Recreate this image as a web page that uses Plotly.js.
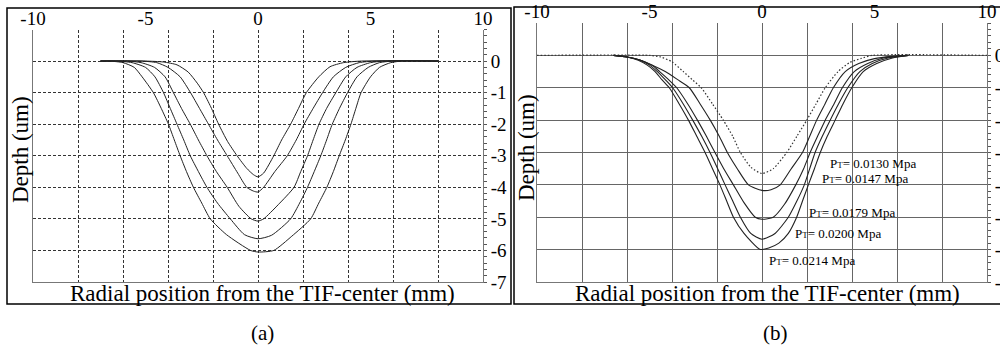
<!DOCTYPE html>
<html>
<head>
<meta charset="utf-8">
<script src="https://cdn.plot.ly/plotly-3.0.1.min.js"></script>
<style>html,body{margin:0;padding:0;background:#fff;}#chart{width:1000px;height:347px;}</style>
</head>
<body>
<div id="chart"></div>
<script>
// ---------- Panel (a): five depth profiles ----------
const xa1 = [-7, -5, -4.2, -3.6, -3.1, -2.7, -2.42, -2.1, -1.75, -1.35, -0.93, -0.5, -0.2, 0, 0.25, 0.7, 1.05, 1.45, 1.8, 2.15, 2.7, 3.2, 3.8, 4.6, 8];
const ya1 = [0, 0, -0.03, -0.12, -0.35, -0.7, -1.0, -1.45, -2.0, -2.55, -3.0, -3.4, -3.6, -3.67, -3.55, -3.0, -2.5, -2.0, -1.5, -1.0, -0.5, -0.18, -0.05, 0, 0];

const xa2 = [-7, -5.2, -4.5, -4.0, -3.46, -3.0, -2.6, -2.2, -1.8, -1.37, -0.9, -0.5, -0.2, 0, 0.25, 0.75, 1.3, 1.7, 2.05, 2.45, 2.87, 3.35, 3.9, 4.5, 5.2, 8];
const ya2 = [0, 0, -0.05, -0.2, -0.5, -1.0, -1.5, -2.0, -2.5, -3.0, -3.55, -4.0, -4.12, -4.15, -4.0, -3.5, -3.0, -2.5, -2.0, -1.5, -1.0, -0.5, -0.2, -0.05, 0, 0];

const xa3 = [-7, -5.8, -5.2, -4.6, -4.13, -3.76, -3.4, -3.01, -2.65, -2.27, -1.85, -1.37, -0.85, -0.3, 0, 0.25, 0.9, 1.6, 1.9, 2.2, 2.45, 2.71, 3.05, 3.46, 3.9, 4.4, 5.0, 5.6, 8];
const ya3 = [0, 0, -0.05, -0.2, -0.5, -1.0, -1.5, -2.0, -2.5, -3.0, -3.5, -4.0, -4.6, -5.0, -5.07, -5.0, -4.55, -4.0, -3.5, -3.0, -2.5, -2.0, -1.5, -1.0, -0.5, -0.2, -0.05, 0, 0];

const xa4 = [-7, -6.3, -5.6, -5.0, -4.58, -4.2, -3.9, -3.6, -3.3, -3.01, -2.65, -2.27, -1.8, -1.23, -0.6, 0, 0.6, 1.45, 1.85, 2.2, 2.5, 2.79, 3.05, 3.3, 3.62, 3.98, 4.4, 4.9, 5.4, 6.0, 8];
const ya4 = [0, 0, -0.05, -0.2, -0.5, -1.0, -1.5, -2.0, -2.5, -3.0, -3.5, -4.0, -4.5, -5.0, -5.5, -5.63, -5.52, -5.0, -4.5, -4.0, -3.5, -3.0, -2.5, -2.0, -1.5, -1.0, -0.5, -0.2, -0.05, 0, 0];

const xa5 = [-7, -6.6, -6.0, -5.5, -5.15, -4.65, -4.3, -3.98, -3.72, -3.46, -3.18, -2.87, -2.5, -2.12, -1.4, -0.33, 0, 0.7, 1.5, 2.34, 2.7, 3.06, 3.35, 3.61, 3.88, 4.13, 4.35, 4.58, 5.0, 5.4, 5.9, 6.4, 8];
const ya5 = [0, 0, -0.05, -0.2, -0.5, -1.0, -1.5, -2.0, -2.5, -3.0, -3.5, -4.0, -4.5, -5.0, -5.5, -6.0, -6.05, -6.0, -5.55, -5.0, -4.5, -4.0, -3.5, -3.0, -2.5, -2.0, -1.5, -1.0, -0.5, -0.2, -0.05, 0, 0];

// ---------- Panel (b): profiles for five pressures ----------
const pressures = ["0.0130", "0.0147", "0.0179", "0.0200", "0.0214"];

const xb1 = [-10, -5.0, -4.5, -4.0, -3.5, -3.1, -2.7, -2.2, -1.72, -1.3, -0.96, -0.5, 0, 0.5, 1.1, 1.55, 1.99, 2.4, 2.81, 3.38, 3.9, 4.43, 4.9, 10];
const yb1 = [0, 0, -0.05, -0.2, -0.5, -0.75, -1.0, -1.5, -2.0, -2.5, -3.0, -3.45, -3.65, -3.5, -3.0, -2.5, -2.0, -1.5, -1.0, -0.5, -0.22, -0.09, 0, 0];

const xb2 = [-6.6, -6.0, -5.4, -4.9, -4.3, -3.75, -3.23, -2.75, -2.3, -1.9, -1.54, -1.1, -0.6, 0, 0.4, 0.81, 1.3, 1.8, 2.12, 2.43, 2.8, 3.17, 3.7, 4.3, 5.0, 5.8, 6.5];
const yb2 = [0, -0.05, -0.15, -0.3, -0.5, -0.75, -1.0, -1.5, -2.0, -2.5, -3.0, -3.5, -4.0, -4.17, -4.15, -4.0, -3.5, -3.0, -2.5, -2.0, -1.5, -1.0, -0.5, -0.25, -0.1, -0.03, 0];

const xb3 = [-6.6, -6.0, -5.4, -4.9, -4.55, -4.15, -3.79, -3.3, -2.87, -2.47, -2.09, -1.7, -1.27, -0.8, -0.3, 0, 0.5, 1.0, 1.5, 1.85, 2.14, 2.47, 2.81, 3.2, 3.57, 4.1, 4.7, 5.4, 6.5];
const yb3 = [0, -0.05, -0.15, -0.3, -0.5, -0.75, -1.0, -1.5, -2.0, -2.5, -3.0, -3.5, -4.0, -4.55, -5.0, -5.06, -5.0, -4.6, -4.0, -3.5, -3.0, -2.5, -2.0, -1.5, -1.0, -0.5, -0.25, -0.08, 0];

const xb4 = [-6.6, -6.0, -5.4, -5.0, -4.65, -4.3, -3.97, -3.5, -3.08, -2.68, -2.31, -1.97, -1.64, -1.3, -0.96, -0.5, 0, 0.58, 1.17, 1.55, 1.88, 2.12, 2.36, 2.68, 3.03, 3.4, 3.81, 4.35, 4.9, 5.6, 6.5];
const yb4 = [0, -0.05, -0.15, -0.3, -0.5, -0.75, -1.0, -1.5, -2.0, -2.5, -3.0, -3.5, -4.0, -4.5, -5.0, -5.5, -5.68, -5.5, -5.0, -4.5, -4.0, -3.5, -3.0, -2.5, -2.0, -1.5, -1.0, -0.5, -0.25, -0.08, 0];

const xb5 = [-6.6, -6.0, -5.5, -5.1, -4.75, -4.45, -4.12, -3.68, -3.27, -2.9, -2.53, -2.2, -1.87, -1.57, -1.27, -0.8, -0.1, 0.3, 0.75, 1.17, 1.54, 1.8, 2.06, 2.33, 2.59, 2.9, 3.25, 3.6, 3.99, 4.5, 5.1, 5.8, 6.5];
const yb5 = [0, -0.05, -0.15, -0.3, -0.5, -0.75, -1.0, -1.5, -2.0, -2.5, -3.0, -3.5, -4.0, -4.5, -5.0, -5.5, -5.99, -5.95, -5.8, -5.5, -5.0, -4.5, -4.0, -3.5, -3.0, -2.5, -2.0, -1.5, -1.0, -0.5, -0.25, -0.08, 0];

// label anchor points for the pressure labels (data coords of panel b)
const labelX = [2.93, 2.58, 2.0, 1.38, 0.22];
const labelY = [-3.33, -3.80, -4.84, -5.49, -6.33];

// tick labels
const xTickVals = [-10, -5, 0, 5, 10];
const yTickVals = [0, -1, -2, -3, -4, -5, -6, -7];

// ---------- build ----------
const FONT = "Liberation Serif, Times New Roman, serif";
const W = 1000, H = 347;
const px = v => v / W;
const py = v => 1 - v / H;

const aSeries = [[xa1, ya1], [xa2, ya2], [xa3, ya3], [xa4, ya4], [xa5, ya5]];
const bSeries = [[xb1, yb1], [xb2, yb2], [xb3, yb3], [xb4, yb4], [xb5, yb5]];

// Bottom (grid) and top (labelled) x axes share the same range; the curves are
// spread over both so that plotly draws both axes.
const traces = [];
aSeries.forEach(([x, y], i) => traces.push({
  x, y, xaxis: i === 0 ? 'x' : 'x2', yaxis: 'y', type: 'scatter', mode: 'lines',
  line: {color: '#222', width: 1, shape: 'spline', smoothing: 0.6},
  name: 'a' + (i + 1), showlegend: false, hoverinfo: 'skip'
}));
bSeries.forEach(([x, y], i) => traces.push({
  x, y, xaxis: i === 0 ? 'x3' : 'x4', yaxis: 'y2', type: 'scatter', mode: 'lines',
  line: {color: i === 0 ? '#333' : '#222', width: i === 0 ? 1.2 : 1.1, dash: i === 0 ? '1.5px,2px' : 'solid', shape: 'spline', smoothing: 0.6},
  name: 'PT = ' + pressures[i] + ' Mpa', showlegend: false, hoverinfo: 'skip'
}));

const tickFont = {family: FONT, size: 19, color: '#000'};
const gridDashA = '3px,2px';

function bottomX(domain, anchor, grid) {
  return {
    domain, anchor, range: [-10, 10], side: 'bottom', showline: true, linecolor: '#777', linewidth: 1,
    showticklabels: false, ticks: '', zeroline: false, fixedrange: true,
    tickmode: 'linear', tick0: 0, dtick: 2,
    showgrid: true, gridcolor: grid.color, gridwidth: 1, griddash: grid.dash
  };
}
function topX(over, anchor) {
  return {
    overlaying: over, anchor, side: 'top', range: [-10, 10], showline: false, showgrid: false,
    zeroline: false, ticks: '', tickvals: xTickVals, ticktext: xTickVals.map(String),
    tickfont: tickFont, fixedrange: true
  };
}
function rightY(domain, anchor, grid) {
  return {
    domain, anchor, side: 'right', range: [-7, 1], showline: true, mirror: true,
    linecolor: '#777', linewidth: 1, zeroline: false, fixedrange: true,
    tickvals: yTickVals, ticktext: yTickVals.map(String), tickfont: tickFont,
    ticks: 'outside', ticklen: 3, tickcolor: '#555',
    showgrid: true, gridcolor: grid.color, gridwidth: 1, griddash: grid.dash,
    minor: {dtick: 0.2, tick0: 0, ticks: 'outside', ticklen: 3, tickcolor: '#555', showgrid: false}
  };
}

const gridA = {color: '#333', dash: gridDashA};
const gridB = {color: '#666', dash: 'solid'};

const domAx = [px(33), px(483)];
const domBx = [px(537), px(987)];
const domAy = [py(282), py(29.5)];
const domBy = [py(282), py(23)];

const annotations = [];
pressures.forEach((p, i) => annotations.push({
  xref: 'x3', yref: 'y2', x: labelX[i], y: labelY[i], xanchor: 'left', yanchor: 'middle',
  text: 'P<span style="font-size:9px">T</span>= ' + p + ' Mpa', showarrow: false,
  font: {family: FONT, size: 13, color: '#000'}
}));
const titleFont = {family: FONT, size: 23, color: '#000'};
[[262, 'Radial position from the TIF-center (mm)'], [767, 'Radial position from the TIF-center (mm)']].forEach(([cx, t]) =>
  annotations.push({xref: 'paper', yref: 'paper', x: px(cx), y: py(293), xanchor: 'center', yanchor: 'middle',
    text: t, showarrow: false, font: titleFont}));
[[20, 150], [527, 148]].forEach(([cx, cy]) =>
  annotations.push({xref: 'paper', yref: 'paper', x: px(cx), y: py(cy), xanchor: 'center', yanchor: 'middle',
    text: 'Depth (um)', textangle: -90, showarrow: false, font: titleFont}));
[[262, '(a)'], [775, '(b)']].forEach(([cx, t]) =>
  annotations.push({xref: 'paper', yref: 'paper', x: px(cx), y: py(333), xanchor: 'center', yanchor: 'middle',
    text: t, showarrow: false, font: {family: FONT, size: 21, color: '#000'}}));

const shapes = [
  {type: 'rect', xref: 'paper', yref: 'paper', x0: px(7), x1: px(511), y0: py(304), y1: py(8), line: {color: '#000', width: 1.5}},
  {type: 'rect', xref: 'paper', yref: 'paper', x0: px(514), x1: px(1010), y0: py(304), y1: py(7), line: {color: '#000', width: 1.5}}
];

const layout = {
  width: W, height: H, margin: {l: 0, r: 0, t: 0, b: 0}, paper_bgcolor: '#fff', plot_bgcolor: 'rgba(0,0,0,0)',
  showlegend: false, font: {family: FONT, color: '#000'},
  xaxis: bottomX(domAx, 'y', gridA), xaxis2: topX('x', 'y'),
  xaxis3: bottomX(domBx, 'y2', gridB), xaxis4: topX('x3', 'y2'),
  yaxis: rightY(domAy, 'x', gridA),
  yaxis2: rightY(domBy, 'x3', gridB),
  annotations, shapes
};

Plotly.newPlot('chart', traces, layout, {staticPlot: true, displayModeBar: false});
</script>
</body>
</html>
